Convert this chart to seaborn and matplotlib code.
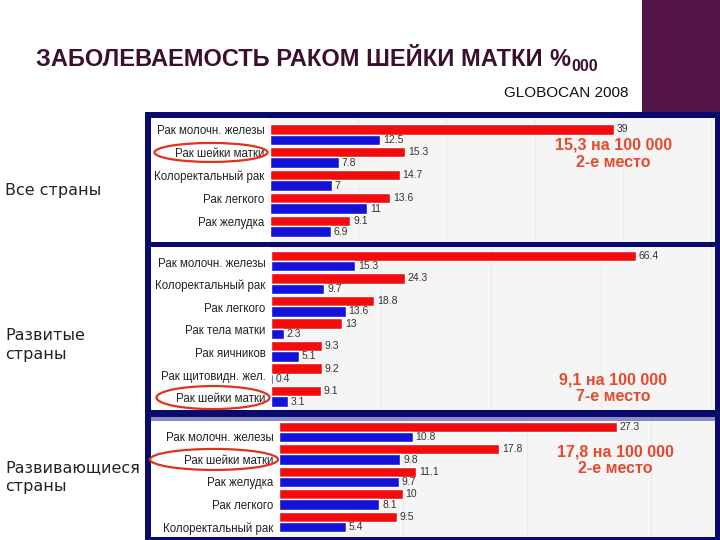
import matplotlib
matplotlib.use("Agg")
import matplotlib.pyplot as plt
import seaborn as sns
import pandas as pd
import numpy as np
from matplotlib.patches import Ellipse, Rectangle
from matplotlib.transforms import blended_transform_factory

# ---------------- data ----------------
series = ["Заболеваемость", "Смертность"]

all_cats = ["Рак молочн. железы", "Рак шейки матки", "Колоректальный рак",
            "Рак легкого", "Рак желудка"]
all_inc = [39, 15.3, 14.7, 13.6, 9.1]
all_mort = [12.5, 7.8, 7, 11, 6.9]

dev_cats = ["Рак молочн. железы", "Колоректальный рак", "Рак легкого",
            "Рак тела матки", "Рак яичников", "Рак щитовидн. жел.",
            "Рак шейки матки"]
dev_inc = [66.4, 24.3, 18.8, 13, 9.3, 9.2, 9.1]
dev_mort = [15.3, 9.7, 13.6, 2.3, 5.1, 0.4, 3.1]

dvg_cats = ["Рак молочн. железы", "Рак шейки матки", "Рак желудка",
            "Рак легкого", "Колоректальный рак"]
dvg_inc = [27.3, 17.8, 11.1, 10, 9.5]
dvg_mort = [10.8, 9.8, 9.7, 8.1, 5.4]

group_titles = ["Все страны", "Развитые\nстраны", "Развивающиеся\nстраны"]
notes = ["15,3 на 100 000\n2-е место", "9,1 на 100 000\n7-е место",
         "17,8 на 100 000\n2-е место"]
highlight = "Рак шейки матки"

title = "ЗАБОЛЕВАЕМОСТЬ РАКОМ ШЕЙКИ МАТКИ"
source = "GLOBOCAN 2008"

# ---------------- style ----------------
sns.set_style("white")
plt.rcParams["font.family"] = ["Liberation Sans", "DejaVu Sans"]

RED = "#f20c0c"
BLUE = "#1212d8"
NAVY = "#0a0a6e"
PURPLE = "#521545"
NOTE = "#e64a2e"

W, H = 720, 540
def fx(x): return x / W
def fy(y): return 1 - y / H

fig = plt.figure(figsize=(7.2, 5.4), dpi=100)
fig.patch.set_facecolor("white")

def frect(x0, y0, x1, y1, color, z=-2):
    fig.add_artist(Rectangle((fx(x0), fy(y1)), fx(x1) - fx(x0), fy(y0) - fy(y1),
                             transform=fig.transFigure, color=color, zorder=z, lw=0))

frect(642, 0, 720, 112, PURPLE)
frect(145, 112, 720, 540, NAVY)

layout = [
    dict(box=(151, 118, 715, 242), ax=(270, 118, 715, 242), xmax=50.45,
         ylim=(4.68, -0.72), tickoff=-0.22, grid=10, ell=(211, 113, 19),
         note=(0.771, 0.711), gtitle=190),
    dict(box=(151, 247, 715, 410), ax=(271, 247, 715, 410), xmax=80.8,
         ylim=(6.6, -0.62), tickoff=0.05, grid=20, ell=(213, 113, 23),
         note=(0.771, 0.134), gtitle=345),
    dict(box=(151, 421, 715, 537), ax=(279, 421, 715, 537), xmax=35.2,
         ylim=(4.67, -0.49), tickoff=0.22, grid=10, ell=(214, 128, 21),
         note=(0.771, 0.66), gtitle=477),
]
data = [(all_cats, all_inc, all_mort), (dev_cats, dev_inc, dev_mort),
        (dvg_cats, dvg_inc, dvg_mort)]

frect(151, 417, 715, 421, "#8c8cc8", z=-1)

for (cats, inc, mort), lay, gt, note in zip(data, layout, group_titles, notes):
    bx0, by0, bx1, by1 = lay["box"]
    frect(bx0, by0, bx1, by1, "white", z=-1)
    x0, y0, x1, y1 = lay["ax"]
    ax = fig.add_axes([fx(x0), fy(y1), fx(x1) - fx(x0), fy(y0) - fy(y1)])
    ax.set_facecolor("#f5f5f5")
    n = len(cats)
    df = pd.DataFrame({"cat": cats * 2,
                       "series": [series[0]] * n + [series[1]] * n,
                       "value": inc + mort})
    sns.barplot(data=df, y="cat", x="value", hue="series", order=cats,
                hue_order=series, palette=[RED, BLUE], orient="h", width=0.92,
                saturation=1, legend=False, ax=ax, errorbar=None)
    for cont in ax.containers:
        ax.bar_label(cont, fmt="{:g}", padding=2, fontsize=7.5, color="#333333")
    ax.set_xlim(0, lay["xmax"])
    ax.set_ylim(*lay["ylim"])
    ax.set_xlabel("")
    ax.set_ylabel("")
    ax.set_xticks(np.arange(lay["grid"], lay["xmax"], lay["grid"]))
    ax.tick_params(axis="x", length=0, labelbottom=False)
    ax.grid(axis="x", color="#e8e8e8", lw=0.8)
    ax.set_axisbelow(True)
    for s in ax.spines.values():
        s.set_visible(False)
    ax.set_yticks(np.arange(n) + lay["tickoff"], cats)
    ax.tick_params(axis="y", length=0, pad=4, labelsize=8.3, labelcolor="#222222")

    # highlight ellipse around the cervical cancer label
    idx = cats.index(highlight)
    pitch = (y1 - y0) / abs(lay["ylim"][0] - lay["ylim"][1])
    cx, ew, eh = lay["ell"]
    trans = blended_transform_factory(fig.transFigure, ax.transData)
    ax.add_patch(Ellipse((fx(cx), idx + lay["tickoff"]), ew / W, eh / pitch,
                         transform=trans, fill=False, ec="#e0321e", lw=1.6,
                         clip_on=False, zorder=5))

    ax.text(lay["note"][0], lay["note"][1], note, transform=ax.transAxes,
            ha="center", va="center", fontsize=11.5, fontweight="bold",
            color=NOTE, linespacing=1.15)

    fig.text(fx(5), fy(lay["gtitle"]), gt, ha="left", va="center",
             fontsize=11.5, family="DejaVu Sans", color="#222222",
             linespacing=1.3)

# title
t = fig.text(fx(36), fy(66), title, ha="left", va="baseline", fontsize=17,
             fontweight="bold", color="#3b0f2e")
r = fig.canvas.get_renderer()
bb = t.get_window_extent(r)
pct = fig.text(bb.x1 / W + fx(7), fy(66), "%", ha="left", va="baseline",
               fontsize=17, fontweight="bold", color="#3b0f2e")
bb2 = pct.get_window_extent(r)
fig.text(bb2.x1 / W + fx(1), fy(71), "000", ha="left", va="baseline",
         fontsize=11.5, fontweight="bold", color="#3b0f2e")

fig.text(fx(629), fy(97), source, ha="right", va="baseline", fontsize=11,
         color="#111111")

fig.savefig("out.png", dpi=100)
